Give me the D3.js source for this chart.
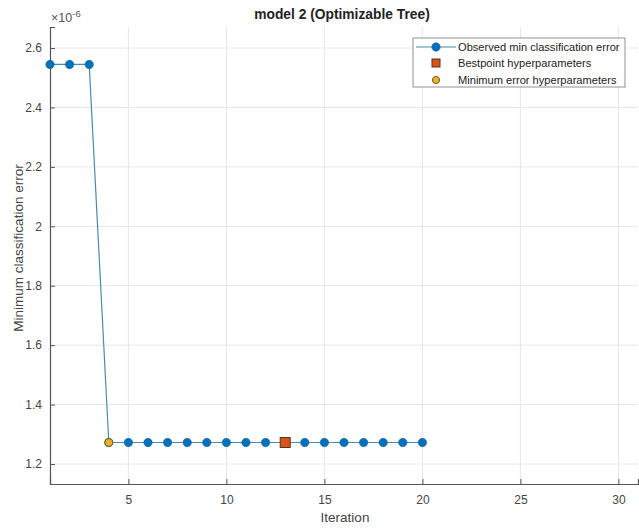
<!DOCTYPE html>
<html>
<head>
<meta charset="utf-8">
<script src="https://cdn.jsdelivr.net/npm/d3@7"></script>
<style>
  body { margin: 0; background: #fff; }
  text { font-family: "Liberation Sans", Arial, sans-serif; }
</style>
</head>
<body>
<svg id="chart" width="639" height="529"></svg>
<script>
const iterations = d3.range(1, 21);
const minError = [
    2.5446, 2.5446, 2.5446, 1.2723, 1.2723, 1.2723, 1.2723, 1.2723, 1.2723, 1.2723,
    1.2723, 1.2723, 1.2723, 1.2723, 1.2723, 1.2723, 1.2723, 1.2723, 1.2723, 1.2723,
];
const bestPoint = { iter: 13, value: 1.2723 };
const minErrorPoint = { iter: 4, value: 1.2723 };
const xTicks = [5, 10, 15, 20, 25, 30];
const yTicks = [1.2, 1.4, 1.6, 1.8, 2.0, 2.2, 2.4, 2.6];
const legendLabels = [
    "Observed min classification error",
    "Bestpoint hyperparameters",
    "Minimum error hyperparameters",
];

const svg = d3.select("#chart");
const margin = { left: 50, right: 1, top: 27, bottom: 45 };
const W = 639, H = 529;

const x = d3.scaleLinear().domain([1, 31]).range([margin.left, W - margin.right]);
const y = d3.scaleLinear().domain([1.1327, 2.6707]).range([H - margin.bottom, margin.top]);

const blue = "#0072BD";
const axisColor = "#555";

// grid
svg.append("g")
    .selectAll("line")
    .data(xTicks)
    .join("line")
    .attr("x1", (d) => x(d)).attr("x2", (d) => x(d))
    .attr("y1", margin.top).attr("y2", H - margin.bottom)
    .attr("stroke", "#e6e6e6");
svg.append("g")
    .selectAll("line")
    .data(yTicks)
    .join("line")
    .attr("x1", margin.left).attr("x2", W - margin.right)
    .attr("y1", (d) => y(d)).attr("y2", (d) => y(d))
    .attr("stroke", "#e6e6e6");

// axes
const xAxis = svg.append("g")
    .attr("transform", `translate(0,${H - margin.bottom})`)
    .call(d3.axisBottom(x).tickValues(xTicks).tickSize(-5).tickPadding(11).tickFormat(d3.format("d")));
const yAxis = svg.append("g")
    .attr("transform", `translate(${margin.left},0)`)
    .call(d3.axisLeft(y).tickValues(yTicks).tickSize(-5).tickPadding(8).tickFormat((d) => d3.format("~g")(d)));

[xAxis, yAxis].forEach((a) => {
    a.select(".domain").attr("stroke", axisColor).attr("stroke-width", 1.2);
    a.selectAll(".tick line").attr("stroke", axisColor);
    a.selectAll(".tick text").attr("fill", "#444").attr("font-size", 12)
        .attr("font-family", "Liberation Sans, Arial, sans-serif");
});

// exponent label
const expo = svg.append("text")
    .attr("x", margin.left + 1)
    .attr("y", 22)
    .attr("fill", "#555")
    .attr("font-size", 12.5);
expo.append("tspan").text("\u00d710");
expo.append("tspan").attr("dy", -5).attr("font-size", 9.5).text("-6");

// title & labels
svg.append("text")
    .attr("x", 342).attr("y", 19)
    .attr("text-anchor", "middle")
    .attr("font-size", 13.8)
    .attr("font-weight", "bold")
    .attr("fill", "#222")
    .text("model 2 (Optimizable Tree)");

svg.append("text")
    .attr("x", 345).attr("y", 522)
    .attr("text-anchor", "middle")
    .attr("font-size", 13.5)
    .attr("fill", "#444")
    .text("Iteration");

svg.append("text")
    .attr("transform", "translate(23,248) rotate(-90)")
    .attr("text-anchor", "middle")
    .attr("font-size", 13.5)
    .attr("fill", "#444")
    .text("Minimum classification error");

// trace
const data = iterations.map((d, i) => ({ iter: d, value: minError[i] }));
svg.append("path")
    .datum(data)
    .attr("fill", "none")
    .attr("stroke", "#4f8aa8")
    .attr("stroke-width", 1.2)
    .attr("d", d3.line().x((d) => x(d.iter)).y((d) => y(d.value)));

svg.append("g")
    .selectAll("circle")
    .data(data)
    .join("circle")
    .attr("cx", (d) => x(d.iter))
    .attr("cy", (d) => y(d.value))
    .attr("r", 4.2)
    .attr("fill", blue)
    .attr("stroke", "#1d5f8c")
    .attr("stroke-width", 0.6);

svg.append("circle")
    .attr("cx", x(minErrorPoint.iter))
    .attr("cy", y(minErrorPoint.value))
    .attr("r", 4)
    .attr("fill", "#EDB120")
    .attr("stroke", "#6b5a3a")
    .attr("stroke-width", 1);

svg.append("rect")
    .attr("x", x(bestPoint.iter) - 5)
    .attr("y", y(bestPoint.value) - 5)
    .attr("width", 10)
    .attr("height", 10)
    .attr("fill", "#D95319")
    .attr("stroke", "#5a3020")
    .attr("stroke-width", 1);

// legend
const lg = svg.append("g").attr("transform", "translate(413,38)");
lg.append("rect")
    .attr("width", 212).attr("height", 49)
    .attr("fill", "#fff")
    .attr("stroke", "#777").attr("stroke-width", 0.8);

const rowY = [9, 25, 42];
lg.append("line")
    .attr("x1", 3).attr("x2", 43)
    .attr("y1", rowY[0]).attr("y2", rowY[0])
    .attr("stroke", "#4f8aa8").attr("stroke-width", 1.2);
lg.append("circle")
    .attr("cx", 23).attr("cy", rowY[0]).attr("r", 4.2)
    .attr("fill", blue).attr("stroke", "#1d5f8c").attr("stroke-width", 0.6);
lg.append("rect")
    .attr("x", 19).attr("y", rowY[1] - 4).attr("width", 8).attr("height", 8)
    .attr("fill", "#D95319").attr("stroke", "#5a3020");
lg.append("circle")
    .attr("cx", 23).attr("cy", rowY[2]).attr("r", 3.6)
    .attr("fill", "#EDB120").attr("stroke", "#6b5a3a");

lg.selectAll("text.lab")
    .data(legendLabels)
    .join("text")
    .attr("class", "lab")
    .attr("x", 45)
    .attr("y", (d, i) => rowY[i] + 4)
    .attr("font-size", 11.1)
    .attr("fill", "#222")
    .text((d) => d);
</script>
</body>
</html>
